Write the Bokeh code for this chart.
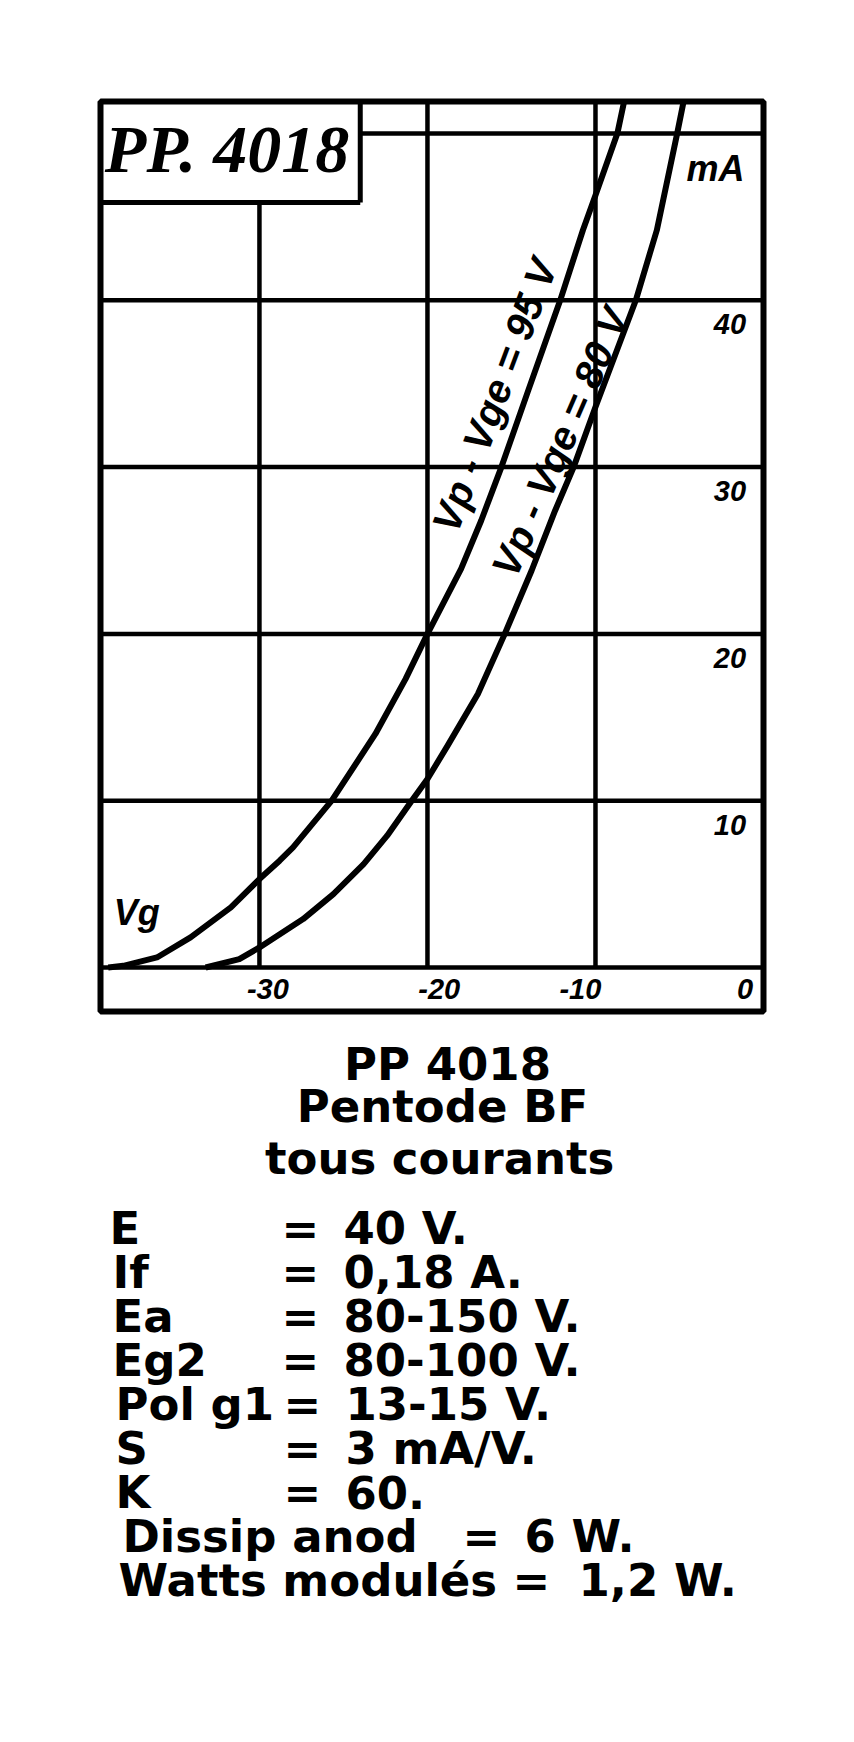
from bokeh.plotting import figure
from bokeh.models import Range1d
from bokeh.layouts import column
from bokeh.core.properties import value
from bokeh.embed import file_html
from bokeh.resources import INLINE

# ---------------- data ----------------
# grid voltage Vg (V) and anode current Ia (mA), curve Vp = Vg2 = 95 V
vg_95 = [-39.0, -38.1, -36.1, -34.1, -31.7, -30.0, -28.8, -28.0, -25.7, -23.1,
         -21.3, -20.0, -18.0, -16.8, -15.6, -14.0, -12.1, -10.75, -10.0, -8.7, -8.3]
ia_95 = [0.0, 0.1, 0.6, 1.8, 3.6, 5.3, 6.4, 7.2, 10.0, 14.0,
         17.3, 20.0, 23.9, 26.8, 30.0, 34.6, 40.0, 44.2, 46.3, 50.0, 51.9]
# curve Vp = Vg2 = 80 V
vg_80 = [-33.2, -31.2, -30.0, -27.4, -25.6, -23.8, -22.4, -21.0, -20.0, -18.8,
         -17.0, -15.4, -13.8, -12.4, -11.3, -10.0, -7.6, -6.35, -5.14, -4.76]
ia_80 = [0.0, 0.5, 1.2, 2.9, 4.4, 6.2, 7.9, 9.9, 11.3, 13.3,
         16.4, 20.0, 23.8, 27.4, 30.0, 33.6, 40.0, 44.2, 50.0, 51.9]

x_grid = [-30, -20, -10]
y_grid = [0, 10, 20, 30, 40, 50]
x_tick_vals = [-30, -20, -10, 0]
x_tick_labels = ["-30", "-20", "-10", "0"]
y_tick_vals = [10, 20, 30, 40]
y_tick_labels = ["10", "20", "30", "40"]

curve_labels = ["Vp - Vge = 95 V", "Vp - Vge = 80 V"]
title_text = "PP. 4018"
unit_text = "mA"
vg_text = "Vg"

header_lines = ["PP 4018", "Pentode BF", "tous  courants"]
spec_names = ["E", "If", "Ea", "Eg2", "Pol g1", "S", "K", "Dissip  anod", "Watts modulés"]
spec_values = ["40 V.", "0,18 A.", "80-150 V.", "80-100 V.", "13-15 V.",
               "3 mA/V.", "60.", "6 W.", "1,2 W."]

# ---------------- layout constants ----------------
X_LEFT, X_RIGHT = -39.46, 0.0
Y_BOTTOM, Y_TOP = -2.64, 51.92
BOX_RIGHT, BOX_BOTTOM = -24.0, 45.86
INK = "#000000"
HAND = "Liberation Sans"
BL, BR, BT, BB = 100, 75, 101, 10
FW, FH = 663, 910
P_H = BT + FH + BB

p = figure(width=BL + FW + BR, height=P_H, title=None,
           x_range=Range1d(X_LEFT, X_RIGHT), y_range=Range1d(Y_BOTTOM, Y_TOP),
           x_axis_location=None, y_axis_location=None,
           output_backend="svg", toolbar_location=None,
           min_border_left=BL, min_border_right=BR,
           min_border_top=BT, min_border_bottom=BB)
p.grid.visible = False
p.outline_line_color = INK
p.outline_line_width = 6
p.background_fill_color = "white"
p.border_fill_color = "white"

# grid lines
vy0 = [0 for _ in x_grid]
vy1 = [BOX_BOTTOM if x < BOX_RIGHT else Y_TOP for x in x_grid]
p.segment(x0=x_grid, y0=vy0, x1=x_grid, y1=vy1, line_color=INK, line_width=4.5)
hx0 = [BOX_RIGHT if y > BOX_BOTTOM else X_LEFT for y in y_grid]
hx1 = [X_RIGHT for _ in y_grid]
p.segment(x0=hx0, y0=y_grid, x1=hx1, y1=y_grid, line_color=INK, line_width=4.5)

# title box edges
p.segment(x0=[BOX_RIGHT, X_LEFT], y0=[BOX_BOTTOM, BOX_BOTTOM],
          x1=[BOX_RIGHT, BOX_RIGHT], y1=[Y_TOP, BOX_BOTTOM],
          line_color=INK, line_width=5)

# curves
p.line(vg_95, ia_95, line_color=INK, line_width=6, line_join="round")
p.line(vg_80, ia_80, line_color=INK, line_width=6, line_join="round")

# tick labels (handwritten style)
p.text(x=[-2.0 for _ in y_tick_vals], y=[v - 1.45 for v in y_tick_vals],
       text=y_tick_labels, text_font=value(HAND), text_font_size=value("29px"),
       text_font_style=value("bold italic"), text_align="center",
       text_baseline="middle", text_color=INK)
x_label_shift = [0.5, 0.7, -0.9, -1.1]
p.text(x=[v + d for v, d in zip(x_tick_vals, x_label_shift)],
       y=[-1.3 for _ in x_tick_vals], text=x_tick_labels,
       text_font=value(HAND), text_font_size=value("29px"),
       text_font_style=value("bold italic"), text_align="center",
       text_baseline="middle", text_color=INK)

p.text(x=[-2.86], y=[47.9], text=[unit_text], text_font=value(HAND),
       text_font_size=value("36px"), text_font_style=value("bold italic"),
       text_align="center", text_baseline="middle", text_color=INK)
p.text(x=[-37.3], y=[3.3], text=[vg_text], text_font=value(HAND),
       text_font_size=value("36px"), text_font_style=value("bold italic"),
       text_align="center", text_baseline="middle", text_color=INK)

# curve labels
p.text(x=[-16.0, -12.1], y=[34.3, 31.5], text=curve_labels,
       angle=[1.213, 1.164], text_font=value(HAND), text_font_size=value("40px"),
       text_font_style=value("bold italic"), text_align="center",
       text_baseline="middle", text_color=INK)

# box title
p.text(x=[-39.2], y=[49.07], text=[title_text], text_font=value("Liberation Serif"),
       text_font_size=value("68px"), text_font_style=value("bold italic"),
       text_align="left", text_baseline="middle", text_color=INK)

# ---------------- text block below (coordinates = page pixels) ----------------
Q_H = 713
q = figure(width=BL + FW + BR, height=Q_H, title=None,
           x_range=Range1d(BL, BL + FW), y_range=Range1d(P_H + Q_H, P_H),
           x_axis_location=None, y_axis_location=None,
           output_backend="svg", toolbar_location=None,
           min_border_left=BL, min_border_right=BR,
           min_border_top=0, min_border_bottom=0)
q.grid.visible = False
q.outline_line_color = None
q.background_fill_color = "white"
q.border_fill_color = "white"

TXT = "DejaVu Sans"
CAP_HALF = 16.4
q.text(x=[447, 442, 447], y=[1080 - CAP_HALF, 1122 - CAP_HALF, 1174 - CAP_HALF],
       text=header_lines, text_font=value(TXT), text_font_size=value("45px"),
       text_font_style=value("bold"), text_align="center",
       text_baseline="middle", text_color=INK)

row_y = [1244.0 + 44.0 * i - CAP_HALF for i in range(len(spec_names))]
name_x = [109, 112, 112, 112, 115, 115, 115, 122, 118]
eq_x = [281, 281, 281, 281, 283, 283, 283, 462, 512]
val_x = [343, 343, 343, 343, 345, 345, 345, 524, 578]
q.text(x=name_x, y=row_y, text=spec_names, text_font=value(TXT),
       text_font_size=value("45px"), text_font_style=value("bold"),
       text_align="left", text_baseline="middle", text_color=INK)
q.text(x=eq_x, y=row_y, text=["=" for _ in spec_names], text_font=value(TXT),
       text_font_size=value("45px"), text_font_style=value("bold"),
       text_align="left", text_baseline="middle", text_color=INK)
q.text(x=val_x, y=row_y, text=spec_values, text_font=value(TXT),
       text_font_size=value("45px"), text_font_style=value("bold"),
       text_align="left", text_baseline="middle", text_color=INK)

layout = column(p, q, spacing=0)
open("out.html", "w").write(file_html(layout, INLINE))
